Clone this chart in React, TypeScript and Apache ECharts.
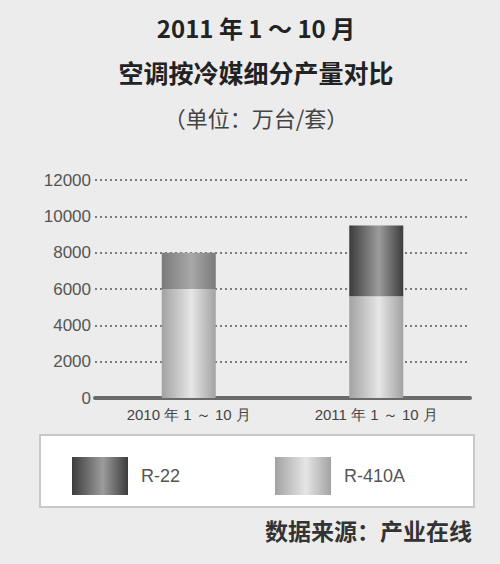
import * as echarts from 'echarts';
import React, { useEffect, useRef } from 'react';

const titleLines = ['2011 年 1 ～ 10 月', '空调按冷媒细分产量对比', '（单位：万台/套）'];
const categories = ['2010 年 1 ～ 10 月', '2011 年 1 ～ 10 月'];
const r410a = [6000, 5600];
const r22 = [2000, 3900];
const yTicks = { min: 0, max: 12000, interval: 2000 };
const source = '数据来源：产业在线';

const cyl = (edge: string, mid: string) =>
  new echarts.graphic.LinearGradient(0, 0, 1, 0, [
    { offset: 0, color: edge },
    { offset: 0.55, color: mid },
    { offset: 1, color: edge },
  ]);

const App: React.FC = () => {
  const ref = useRef<HTMLDivElement>(null);

  useEffect(() => {
    const chart = echarts.init(ref.current, null, { renderer: 'svg' });
    const legendText = { color: '#555', fontSize: 18, fontFamily: 'Liberation Sans', padding: [0, 0, 0, 8] };
    chart.setOption({
      animation: false,
      backgroundColor: '#ececec',
      grid: { left: 95, right: 30, top: 180, bottom: 166 },
      xAxis: {
        type: 'category',
        data: categories,
        axisLine: { lineStyle: { color: '#6a6a6a', width: 4 } },
        axisTick: { show: false },
        axisLabel: { color: '#444', fontSize: 15, fontFamily: 'Liberation Sans', margin: 9 },
      },
      yAxis: {
        type: 'value',
        ...yTicks,
        axisLine: { show: false },
        axisTick: { show: false },
        axisLabel: {
          color: '#555',
          fontSize: 17,
          fontFamily: 'Liberation Sans',
          margin: 4,
          formatter: (v: number) => String(v),
        },
        splitLine: { lineStyle: { color: '#555', type: [2, 3], width: 1.5 } },
      },
      legend: [
        {
          data: ['R-22'],
          left: 67,
          top: 452,
          icon: 'rect',
          itemWidth: 56,
          itemHeight: 38,
          textStyle: legendText,
        },
        {
          data: ['R-410A'],
          left: 270,
          top: 452,
          icon: 'rect',
          itemWidth: 56,
          itemHeight: 38,
          textStyle: legendText,
        },
      ],
      graphic: [
        {
          type: 'rect',
          z: -1,
          shape: { x: 40, y: 435, width: 434, height: 72 },
          style: { fill: '#fff', stroke: '#c8c8c8', lineWidth: 2 },
        },
        ...titleLines.map((t, i) => ({
          type: 'text',
          x: 256,
          y: [27, 72, 117][i],
          style: {
            text: t,
            fill: i === 2 ? '#444' : '#222',
            font: `${i === 2 ? 'normal' : 'bold'} ${[24, 25, 22][i]}px "Noto Sans CJK SC"`,
            textAlign: 'center',
            textVerticalAlign: 'middle',
          },
        })),
        {
          type: 'text',
          x: 472,
          y: 530,
          style: {
            text: source,
            fill: '#333',
            font: 'bold 23px "Noto Sans CJK SC"',
            textAlign: 'right',
            textVerticalAlign: 'middle',
          },
        },
      ],
      series: [
        {
          name: 'R-410A',
          type: 'bar',
          stack: 'total',
          barWidth: 54,
          data: r410a,
          itemStyle: { color: cyl('#a2a2a2', '#e6e6e6') },
        },
        {
          name: 'R-22',
          type: 'bar',
          stack: 'total',
          barWidth: 54,
          data: r22.map((v, i) =>
            i === 0 ? { value: v, itemStyle: { color: cyl('#7a7a7a', '#a8a8a8') } } : v
          ),
          itemStyle: { color: cyl('#3c3c3c', '#9c9c9c') },
        },
      ],
    });
    return () => {
      chart.dispose();
    };
  }, []);

  return (
    <div
      ref={ref}
      style={{ position: 'fixed', left: 0, top: 0, width: 500, height: 564 }}
    ></div>
  );
};

export default App;
